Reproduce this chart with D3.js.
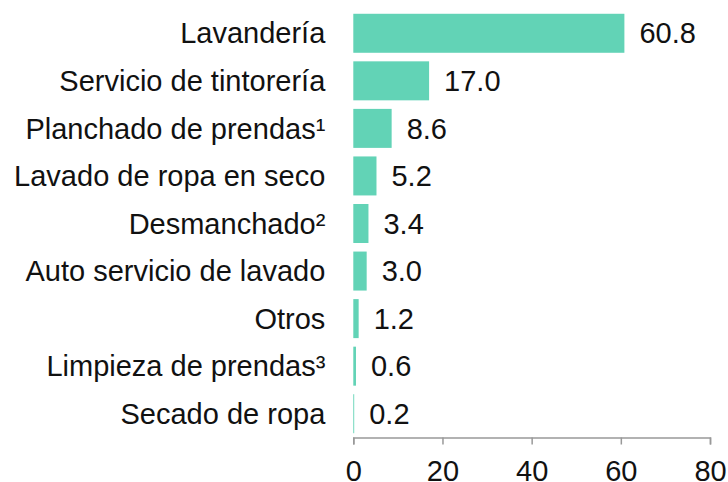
<!DOCTYPE html>
<html>
<head>
<meta charset="utf-8">
<script src="https://cdn.jsdelivr.net/npm/d3@7"></script>
<style>
  body { margin: 0; background: #fff; }
  #chart text { font-family: "Liberation Sans", Arial, sans-serif; }
</style>
</head>
<body>
<div id="chart"></div>
<script>
// Categories and values (percent)
const categories = [
    "Lavandería",
    "Servicio de tintorería",
    "Planchado de prendas¹",
    "Lavado de ropa en seco",
    "Desmanchado²",
    "Auto servicio de lavado",
    "Otros",
    "Limpieza de prendas³",
    "Secado de ropa"
];
const values = [60.8, 17.0, 8.6, 5.2, 3.4, 3.0, 1.2, 0.6, 0.2];
const xTicks = [0, 20, 40, 60, 80];

const width = 728, height = 482;
const margin = { top: 9.5, right: 18, bottom: 44.5, left: 353.3 };
const innerHeight = height - margin.top - margin.bottom;

const data = categories.map((c, i) => ({ name: c, value: values[i] }));

const svg = d3.select("#chart")
    .append("svg")
    .attr("width", width)
    .attr("height", height)
    .append("g")
    .attr("transform", `translate(${margin.left},${margin.top})`);

const x = d3.scaleLinear().domain([0, 80]).range([0, 710 - margin.left]);

const y = d3.scaleBand()
    .domain(categories)
    .range([0, innerHeight])
    .paddingInner(0.18)
    .paddingOuter(0.09);

// Bars
svg.selectAll(".bar")
    .data(data)
    .enter()
    .append("rect")
    .attr("class", "bar")
    .attr("x", x(0))
    .attr("y", d => y(d.name))
    .attr("width", d => Math.max(0, x(d.value) - x(0)))
    .attr("height", y.bandwidth())
    .style("fill", "#62d3b6");

// Value labels
svg.selectAll(".value")
    .data(data)
    .enter()
    .append("text")
    .attr("class", "value")
    .attr("x", d => x(d.value) + 15)
    .attr("y", d => y(d.name) + y.bandwidth() / 2)
    .attr("dy", "0.35em")
    .style("font-size", "29px")
    .style("fill", "#111")
    .text(d => d3.format(".1f")(d.value));

// Category labels
svg.selectAll(".cat")
    .data(data)
    .enter()
    .append("text")
    .attr("class", "cat")
    .attr("x", -28)
    .attr("y", d => y(d.name) + y.bandwidth() / 2)
    .attr("dy", "0.35em")
    .style("font-size", "29px")
    .style("text-anchor", "end")
    .style("fill", "#111")
    .text(d => d.name);

// X axis
const xAxis = svg.append("g")
    .attr("transform", `translate(0,${innerHeight})`)
    .call(d3.axisBottom(x).tickValues(xTicks).tickSize(7).tickPadding(16).tickSizeOuter(7));
xAxis.select(".domain").attr("stroke", "#999").attr("stroke-width", 1.5);
xAxis.selectAll(".tick line").attr("stroke", "#999").attr("stroke-width", 1.5);
xAxis.selectAll("text")
    .style("font-size", "29px")
    .style("fill", "#111");
</script>
</body>
</html>
